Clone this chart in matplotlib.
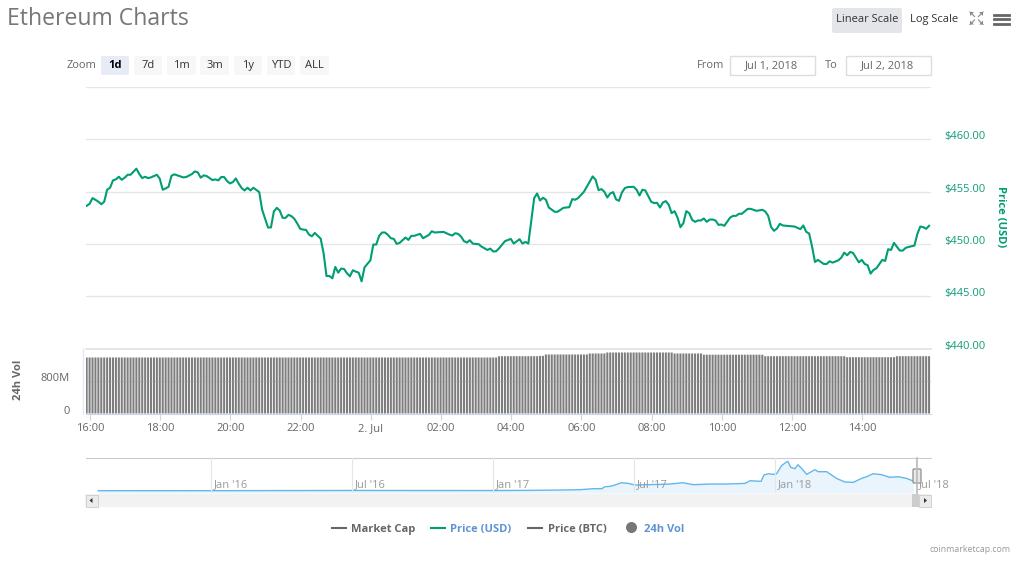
import matplotlib
matplotlib.use("Agg")
import matplotlib.pyplot as plt
from matplotlib.patches import Rectangle, FancyBboxPatch, Circle, Polygon
from matplotlib.lines import Line2D
from matplotlib.transforms import ScaledTranslation
import numpy as np

plt.rcParams['font.family'] = ['Open Sans', 'DejaVu Sans']

W, H = 1021, 562

# 5 minute slots since the start of the window (15:54)
PRICE_SLOT = [0, 1, 2, 3, 4, 5, 6, 7, 8, 9, 10, 11, 12, 13, 14, 15, 17, 18, 19, 20, 21, 22, 24, 25, 26, 27, 28, 29, 30, 31,
              33, 34, 36, 37, 38, 39, 40, 41, 42, 43, 44, 45, 46, 47, 48, 49, 50, 51, 52, 53, 54, 55, 56, 57, 59, 60, 62, 63, 64, 65,
              66, 67, 68, 69, 70, 71, 72, 73, 74, 75, 76, 77, 78, 79, 80, 81, 82, 83, 84, 85, 86, 87, 88, 89, 90, 91, 92, 93, 94, 95,
              97, 98, 99, 100, 101, 102, 103, 104, 105, 106, 107, 109, 110, 111, 112, 114, 115, 117, 118, 119, 122, 124, 125, 126, 127, 128, 129, 130, 131, 132,
              134, 135, 137, 138, 139, 140, 141, 143, 145, 146, 148, 149, 150, 151, 153, 154, 155, 156, 157, 158, 160, 161, 163, 165, 166, 167, 168, 170, 173, 174,
              175, 176, 177, 178, 179, 180, 181, 182, 183, 184, 185, 187, 188, 189, 190, 191, 193, 194, 195, 196, 197, 198, 199, 200, 201, 202, 203, 204, 205, 206,
              207, 208, 209, 210, 211, 212, 213, 214, 215, 216, 217, 218, 220, 221, 222, 223, 224, 226, 227, 229, 231, 232, 233, 234, 235, 236, 237, 238, 242, 244,
              245, 246, 247, 248, 249, 250, 252, 253, 254, 255, 257, 258, 259, 260, 261, 262, 264, 265, 266, 267, 268, 269, 270, 272, 273, 274, 275, 276, 278, 279,
              280, 281, 283, 284, 285, 286, 287, 288]
PRICE_USD = [453.64, 453.83, 454.38, 454.22, 454.03, 453.80, 454.03, 455.18, 455.37, 456.07, 456.17, 456.42, 456.13, 456.33, 456.61, 456.61, 457.19, 456.68, 456.29, 456.42, 456.29, 456.36, 456.61, 456.23, 455.18, 455.30, 455.46, 456.52, 456.65, 456.55,
             456.36, 456.39, 456.68, 456.93, 456.84, 456.33, 456.55, 456.49, 456.29, 456.10, 456.17, 456.07, 456.39, 456.39, 456.01, 455.78, 455.91, 456.26, 455.75, 455.34, 455.11, 455.37, 455.11, 455.37, 454.95, 453.26, 451.57, 451.57, 453.10, 453.45,
             453.19, 452.49, 452.49, 452.78, 452.65, 452.40, 451.95, 451.44, 451.37, 451.34, 450.89, 450.73, 451.05, 450.77, 450.51, 449.11, 446.93, 446.93, 446.71, 447.80, 447.25, 447.64, 447.60, 447.19, 446.90, 447.48, 447.35, 447.25, 446.42, 447.76,
             448.43, 449.94, 449.94, 450.77, 451.09, 451.09, 450.86, 450.54, 450.48, 450.00, 450.10, 450.61, 450.38, 450.77, 450.77, 450.96, 450.54, 450.86, 451.21, 451.09, 451.15, 450.89, 450.80, 451.02, 450.96, 450.70, 450.26, 450.13, 450.35, 450.03,
             449.97, 449.74, 449.42, 449.55, 449.27, 449.30, 449.58, 450.26, 450.48, 450.03, 450.45, 450.03, 450.19, 450.03, 454.38, 454.82, 454.15, 454.41, 454.22, 453.48, 453.07, 453.07, 453.45, 453.51, 454.28, 454.22, 454.38, 454.98, 456.45, 456.13,
             455.14, 455.24, 454.98, 454.44, 454.82, 454.95, 454.25, 454.12, 454.92, 455.34, 455.43, 455.46, 455.18, 454.63, 455.18, 455.11, 454.03, 453.90, 453.93, 453.48, 453.96, 454.09, 453.74, 452.94, 453.13, 452.52, 451.60, 451.98, 453.13, 452.94,
             452.30, 452.11, 452.24, 452.24, 452.43, 452.11, 452.33, 452.33, 452.24, 451.82, 451.85, 451.73, 452.52, 452.68, 452.68, 452.88, 452.88, 453.35, 453.35, 453.16, 453.26, 453.10, 452.68, 451.60, 451.25, 451.47, 451.92, 451.76, 451.66, 451.41,
             451.76, 451.15, 450.99, 449.74, 448.27, 448.47, 448.08, 448.08, 448.34, 448.21, 448.43, 448.69, 449.17, 448.91, 449.23, 449.14, 448.24, 448.47, 448.08, 447.96, 447.16, 447.51, 447.67, 448.47, 448.37, 449.49, 449.42, 450.10, 449.36, 449.36,
             449.62, 449.71, 449.84, 450.96, 451.66, 451.60, 451.44, 451.73]

VOL_LEVEL = [1400, 1432, 1440, 1475, 1500, 1525, 1500, 1470, 1432, 1407, 1432]
VOL_COUNT = [141, 14, 2, 15, 6, 23, 10, 21, 28, 17, 12]

HOUR_TICKS = [16, 18, 20, 22, 24, 26, 28, 30, 32, 34, 36, 38]
HOUR_LABELS = ['16:00', '18:00', '20:00', '22:00', '2. Jul', '02:00', '04:00', '06:00', '08:00', '10:00', '12:00', '14:00']
PRICE_TICKS = [440, 445, 450, 455, 460, 465]
PRICE_LABELS = ['$440.00', '$445.00', '$450.00', '$455.00', '$460.00', '']
VOL_TICKS = [0, 800]
VOL_LABELS = ['0', '800M']

# navigator, months since Jan 2016 and price in USD
NAV_MONTH = [-4.8, 0, 6, 12, 13.5, 14.85, 15.7, 16.27, 16.63, 16.77, 16.98, 17.19, 17.47, 17.76, 18.04, 18.54, 19.11, 19.53, 20.07, 20.52, 21.24, 21.94, 22.73, 22.94, 23.41, 23.53, 23.72, 23.93, 24.07, 24.28,
             24.47, 24.55, 24.67, 24.85, 24.98, 25.13, 25.35, 25.70, 25.84, 26.20, 26.62, 26.98, 27.33, 27.69, 27.90, 28.18, 28.54, 28.89, 29.25, 29.60, 29.89]
NAV_PRICE = [2, 1, 12, 8, 16, 32, 48, 95, 95, 190, 206, 270, 381, 349, 270, 286, 302, 317, 381, 286, 317, 317, 349, 476, 444, 746, 809, 778, 809, 1190,
             1349, 1397, 1111, 1047, 1238, 1063, 778, 1000, 905, 905, 587, 413, 397, 587, 667, 809, 762, 635, 667, 587, 460]
NAV_TICKS = [0, 6, 12, 18, 24, 30]
NAV_LABELS = ["Jan '16", "Jul '16", "Jan '17", "Jul '17", "Jan '18", "Jul '18"]

GREEN = '#009e73'
GRID = '#e6e6e6'
AXIS_BLUE = '#ccd6eb'
GREY_TEXT = '#666666'


def px_rect(left, top, right, bottom):
    return [left / W, 1 - bottom / H, (right - left) / W, (bottom - top) / H]


def slot_to_hour(slot):
    return 15.905 + np.asarray(slot) * 5 / 60


fig = plt.figure(figsize=(W / 100, H / 100), dpi=100, facecolor='white')
x_range = (15.872, 39.96)

# price panel
ax = fig.add_axes(px_rect(85.5, 87, 931, 348.5))
ax.plot(slot_to_hour(PRICE_SLOT), PRICE_USD, color=GREEN, lw=1.5, solid_joinstyle='round', zorder=3)
ax.set_xlim(x_range)
ax.set_ylim(440, 465)
ax.yaxis.tick_right()
ax.set_yticks(PRICE_TICKS)
ax.set_yticklabels(PRICE_LABELS, color='#0f9d78', fontsize=8, va='baseline')
ax.tick_params(axis='y', length=0, pad=9.5)
ax.set_xticks([])
ax.grid(axis='y', color=GRID, lw=1)
for s in ax.spines.values():
    s.set_visible(False)

# volume panel
vol = np.repeat(VOL_LEVEL, VOL_COUNT)
bx = fig.add_axes(px_rect(85.5, 349, 931, 413.5))
bars = bx.bar(slot_to_hour(np.arange(len(vol))), vol, width=0.058, color='#7d7d7d', zorder=2)
for b in bars:
    b.set_snap(False)
bx.set_xlim(x_range)
bx.set_ylim(0, 1612)
bx.set_yticks(VOL_TICKS)
bx.set_yticklabels(VOL_LABELS, color=GREY_TEXT, fontsize=8, va='baseline')
bx.set_xticks(HOUR_TICKS)
bx.set_xticklabels(HOUR_LABELS, color=GREY_TEXT, fontsize=8)
bx.tick_params(axis='y', length=0, pad=11)
bx.tick_params(axis='x', length=4.5, width=0.8, color=AXIS_BLUE, pad=2.5)
bx.grid(axis='y', color='#999999', lw=0.7, alpha=0.45, zorder=3)
bx.set_axisbelow(False)
for name in ['top', 'right', 'left']:
    bx.spines[name].set_visible(False)
bx.spines['bottom'].set_color(AXIS_BLUE)

# navigator
nx = fig.add_axes(px_rect(85.5, 458, 931, 493))
nx.fill_between(NAV_MONTH, NAV_PRICE, -109, color='#e9f4fc', lw=0)
nx.plot(NAV_MONTH, NAV_PRICE, color='#62b8ea', lw=1)
nx.set_xlim(-5.34, 30.64)
nx.set_ylim(-109, 1557)
nx.set_yticks([])
nx.set_xticks(NAV_TICKS)
nx.set_xticklabels(NAV_LABELS, color='#999999', fontsize=8, ha='left')
nx.tick_params(axis='x', length=0, pad=-10)
for lab in nx.get_xticklabels():
    lab.set_transform(lab.get_transform() + ScaledTranslation(2.5 / 100, 0, fig.dpi_scale_trans))
nx.grid(axis='x', color=GRID, lw=0.8)
nx.set_axisbelow(False)
for name in ['bottom', 'right', 'left']:
    nx.spines[name].set_visible(False)
nx.spines['top'].set_color('#cccccc')

# page furniture, drawn in pixel coordinates
ov = fig.add_axes([0, 0, 1, 1], zorder=5)
ov.set_xlim(0, W)
ov.set_ylim(H, 0)
ov.axis('off')


def txt(x, y, s, color=GREY_TEXT, size=8, ha='left', weight='normal', **kw):
    ov.text(x, y, s, color=color, fontsize=size, ha=ha, va='center', fontweight=weight, **kw)


def button(x0, y0, x1, y1, face):
    ov.add_patch(FancyBboxPatch((x0 + 2, y0 + 2), x1 - x0 - 4, y1 - y0 - 4, boxstyle='round,pad=2', fc=face, ec='none'))


txt(7, 19, 'Ethereum Charts', color='#777777', size=16.6)
txt(67, 66, 'Zoom')
ZOOM_BTNS = [(101, 129, '1d'), (134, 162, '7d'), (167, 196, '1m'), (200, 229, '3m'), (234, 262, '1y'), (267, 295, 'YTD'), (300, 329, 'ALL')]
for i, (a, b, lab) in enumerate(ZOOM_BTNS):
    button(a, 56, b, 75, '#e6ebf5' if i == 0 else '#f7f7f7')
    txt((a + b) / 2, 65.5, lab, color='#000000' if i == 0 else '#333333', ha='center', weight='bold' if i == 0 else 'normal')

button(832, 8, 902, 33, '#e3e5e9')
txt(867, 19.5, 'Linear Scale', color='#333333', ha='center')
txt(934, 19.5, 'Log Scale', color='#333333', ha='center')
for y in [14.5, 19, 23.5]:
    ov.add_line(Line2D([993.5, 1008.5], [y, y], color='#666666', lw=2))
for cx, cy, dx, dy in [(970, 12, 1, 1), (983, 12, -1, 1), (970, 24.5, 1, -1), (983, 24.5, -1, -1)]:
    ov.add_patch(Polygon([(cx, cy), (cx + 4 * dx, cy), (cx, cy + 4 * dy)], fc='#888888', ec='none'))
    ov.add_line(Line2D([cx, cx + 4.5 * dx], [cy, cy + 4.5 * dy], color='#888888', lw=0.8))

txt(697, 65.5, 'From')
txt(825, 65.5, 'To')
for a, b, lab in [(729.5, 815, 'Jul 1, 2018'), (845.5, 931, 'Jul 2, 2018')]:
    ov.add_patch(Rectangle((a, 56), b - a, 19, fc='white', ec='#dddddd', lw=1))
    txt((a + b) / 2 - 0.5, 65.5, lab, ha='center')

txt(1000, 217, 'Price (USD)', color=GREEN, ha='center', weight='bold', rotation=270)
txt(18, 380, '24h Vol', ha='center', weight='bold', rotation=90)
ov.add_line(Line2D([82.7, 82.7], [349, 414], color='#e4e8f2', lw=1))
ov.add_line(Line2D([85.5, 931], [349, 349], color=GRID, lw=1.4))

# scrollbar
ov.add_patch(Rectangle((85, 494), 846, 13, fc='#f2f2f2', ec='none'))
ov.add_patch(Rectangle((85.5, 494.5), 12, 12, fc='#ebebeb', ec='#cccccc', lw=0.6))
ov.add_patch(Polygon([(89.5, 500.5), (92.5, 498), (92.5, 503)], fc='#333333', ec='none'))
ov.add_patch(Rectangle((912, 494), 7, 13, fc='#cccccc', ec='none'))
ov.add_patch(Rectangle((919, 494.5), 12, 12, fc='#ebebeb', ec='#cccccc', lw=0.6))
ov.add_patch(Polygon([(927, 500.5), (924, 498), (924, 503)], fc='#333333', ec='none'))
ov.add_line(Line2D([917, 917], [458, 493], color='#bbbbbb', lw=1.2))
ov.add_patch(FancyBboxPatch((914, 470), 6, 12, boxstyle='round,pad=1', fc='#e8e8e8', ec='#999999', lw=1))

# legend
LEGEND = [(332, 351, 'Market Cap', GREY_TEXT, '#666666'), (431, 450, 'Price (USD)', '#5f93d2', GREEN), (528, 548, 'Price (BTC)', GREY_TEXT, '#666666')]
for x0, xt, lab, tc, lc in LEGEND:
    ov.add_line(Line2D([x0, x0 + 14], [528, 528], color=lc, lw=1.5))
    txt(xt, 529.5, lab, color=tc, size=8, weight='bold')
ov.add_patch(Circle((631.5, 527.5), 5.5, fc='#777777', ec='none'))
txt(644, 529.5, '24h Vol', color='#5f93d2', size=8, weight='bold')
txt(1011, 549, 'coinmarketcap.com', color='#999999', size=6.3, ha='right')

fig.savefig('out.png', dpi=100)
